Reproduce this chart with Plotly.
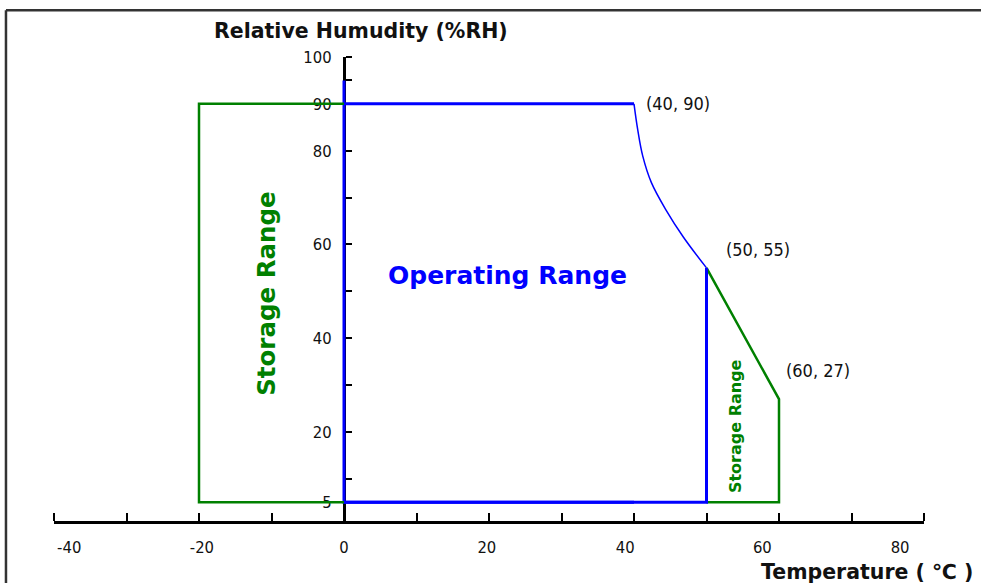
import plotly.graph_objects as go

# ---- data ----
# Operating range outline (blue)
op_x = [0, 0, 40]
op_y = [95, 5, 5]
op_top_x = [0, 40]
op_top_y = [90, 90]
# curved upper-right boundary (40,90) -> (50,55)
curve_x = [40, 40.5, 41.2, 42.4, 44.4, 46.8, 50]
curve_y = [90, 84.6, 78.9, 73.2, 67.4, 61.6, 55]
op_right_x = [50, 50, 0]
op_right_y = [55, 5, 5]

# Storage range outlines (green)
st_left_x = [0, -20, -20, 0]
st_left_y = [90, 90, 5, 5]
st_right_x = [50, 60, 60, 50]
st_right_y = [55, 27, 5, 5]

# corner labels
corner_x = [40, 50, 60]
corner_y = [90, 55, 27]
corner_text = ["(40, 90)", "(50, 55)", "(60, 27)"]

# axis ticks / labels
x_minor_ticks = [-40, -30, -20, -10, 0, 10, 20, 30, 40, 50, 60, 70, 80]
x_label_pos = [-37.9, -19.6, 0, 19.7, 38.8, 57.7, 76.7]
x_label_text = ["-40", "-20", "0", "20", "40", "60", "80"]
y_minor_ticks = [10, 20, 30, 40, 50, 60, 70, 80, 95, 100]
y_label_pos = [5, 20, 40, 60, 80, 90, 100]
y_label_text = ["5", "20", "40", "60", "80", "90", "100"]

BLUE = "#0000FF"
GREEN = "#008000"
FONT_C = "DejaVu Sans Condensed"
FONT_B = "DejaVu Sans"

fig = go.Figure()
fig.add_trace(go.Scatter(x=op_x, y=op_y, mode="lines", line=dict(color=BLUE, width=3), hoverinfo="skip"))
fig.add_trace(go.Scatter(x=op_top_x, y=op_top_y, mode="lines", line=dict(color=BLUE, width=3), hoverinfo="skip"))
fig.add_trace(go.Scatter(x=curve_x, y=curve_y, mode="lines",
                         line=dict(color=BLUE, width=1.5, shape="spline", smoothing=1.0), hoverinfo="skip"))
fig.add_trace(go.Scatter(x=st_left_x, y=st_left_y, mode="lines", line=dict(color=GREEN, width=2.5), hoverinfo="skip"))
fig.add_trace(go.Scatter(x=st_right_x, y=st_right_y, mode="lines", line=dict(color=GREEN, width=2.5), hoverinfo="skip"))
fig.add_trace(go.Scatter(x=op_right_x, y=op_right_y, mode="lines", line=dict(color=BLUE, width=3), hoverinfo="skip"))

annotations = []
shifts = [(10, 0), (17, 18), (5, 29)]
for cx, cy, t, (dx, dy) in zip(corner_x, corner_y, corner_text, shifts):
    annotations.append(dict(x=cx, y=cy, text=t, showarrow=False, xanchor="left", yanchor="middle",
                            xshift=dx, yshift=dy, font=dict(family=FONT_C, size=18, color="#111")))

annotations += [
    dict(x=22.6, y=53.3, text="<b>Operating Range</b>", showarrow=False,
         font=dict(family=FONT_B, size=25, color=BLUE)),
    dict(x=-10.8, y=49.4, text="<b>Storage Range</b>", showarrow=False, textangle=-90,
         font=dict(family=FONT_B, size=24.5, color=GREEN)),
    dict(x=54.1, y=21.3, text="<b>Storage Range</b>", showarrow=False, textangle=-90,
         font=dict(family=FONT_B, size=16, color=GREEN)),
    dict(x=0.3532, y=1.0, xref="paper", yref="paper", yshift=26, text="<b>Relative Humudity (%RH)</b>",
         showarrow=False, xanchor="center", yanchor="middle",
         font=dict(family=FONT_B, size=20.5, color="#111")),
    dict(x=1.0, y=0.0, xref="paper", yref="paper", xshift=51, yshift=-51, text="<b>Temperature ( ℃ )</b>",
         showarrow=False, xanchor="right", yanchor="middle",
         font=dict(family=FONT_B, size=20.5, color="#111")),
]

frame = dict(color="#333", width=2.5)
fig.update_layout(
    width=981, height=583,
    margin=dict(l=54, r=57, t=57, b=62),
    paper_bgcolor="white", plot_bgcolor="white",
    showlegend=False,
    annotations=annotations,
    shapes=[
        dict(type="line", xref="paper", yref="paper", x0=-0.0552, x1=1.068, y0=1.101, y1=1.101,
             line=frame, layer="below"),
        dict(type="line", xref="paper", yref="paper", x0=-0.0552, x1=-0.0552, y0=-0.14, y1=1.101,
             line=frame, layer="below"),
    ],
    xaxis=dict(range=[-40, 80], showgrid=False, zeroline=False,
               showline=True, linecolor="black", linewidth=3,
               tickmode="array", tickvals=x_label_pos, ticktext=x_label_text, ticks="",
               ticklabelstandoff=9,
               minor=dict(tickmode="array", tickvals=x_minor_ticks, ticks="inside",
                          ticklen=8, tickwidth=2, tickcolor="black", showgrid=False),
               tickfont=dict(family=FONT_C, size=16.5, color="#111"),
               layer="below traces", fixedrange=True, automargin=False),
    yaxis=dict(range=[1, 100], showgrid=False, zeroline=False,
               anchor="free", position=1/3,
               showline=True, linecolor="black", linewidth=3,
               tickmode="array", tickvals=y_label_pos, ticktext=y_label_text, ticks="",
               ticklabelstandoff=8,
               minor=dict(tickmode="array", tickvals=y_minor_ticks, ticks="inside",
                          ticklen=6, tickwidth=2, tickcolor="black", showgrid=False),
               tickfont=dict(family=FONT_C, size=16.5, color="#111"),
               layer="below traces", fixedrange=True, automargin=False),
)

fig.write_html("out.html", config={"displayModeBar": False},
               post_script="document.body.style.margin='0';document.body.style.overflow='hidden';")
